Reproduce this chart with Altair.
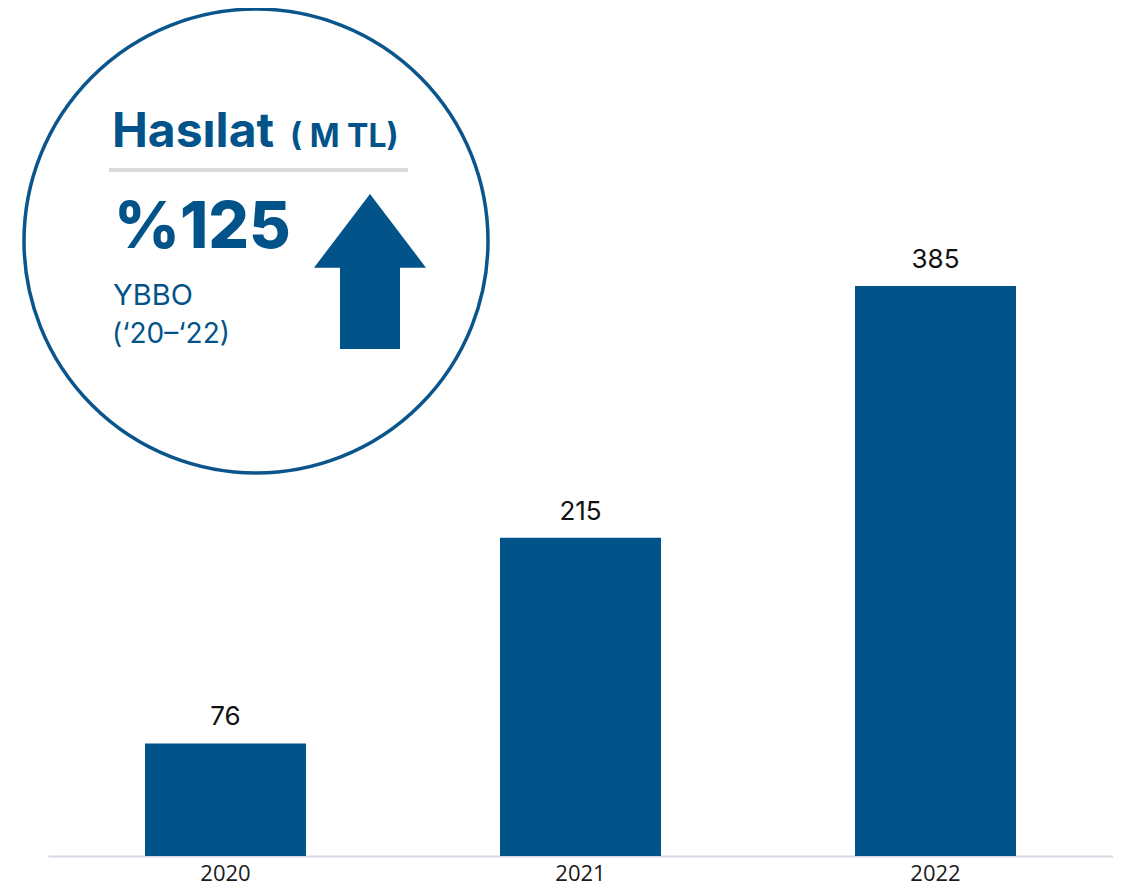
import altair as alt
import pandas as pd

years = ["2020", "2021", "2022"]
revenue = [76, 215, 385]

title_main = "Hasılat"
title_unit = "( M TL)"
growth_text = "%125"
growth_label_1 = "YBBO"
growth_label_2 = "(\u201820\u2013\u201822)"

BLUE = "#01538A"
FONT = "Inter"

df = pd.DataFrame({"year": years, "value": revenue})
one = pd.DataFrame({"k": [0]})

base = alt.Chart(df)

bars = base.mark_bar(color=BLUE).encode(
    x=alt.X(
        "year:N",
        title=None,
        sort=years,
        scale=alt.Scale(paddingInner=0.5465, paddingOuter=0.2732),
        axis=alt.Axis(
            labelAngle=0,
            labelFontSize=22,
            labelFont="Open Sans",
            labelColor="#1a1a1a",
            labelPadding=7,
            ticks=False,
            tickSize=0,
            domainColor="#d5dae6",
            domainWidth=2,
            grid=False,
        ),
    ),
    y=alt.Y("value:Q", title=None, scale=alt.Scale(domain=[0, 572.8], nice=False), axis=None),
)

labels = base.mark_text(
    dy=-18, baseline="alphabetic", fontSize=26, font=FONT, color="#111111"
).encode(
    x=alt.X("year:N", sort=years),
    y=alt.Y("value:Q"),
    text="value:Q",
)

circle = alt.Chart(one).mark_point(
    shape="circle", filled=False, stroke="#0A558C", strokeWidth=3.5, opacity=1
).encode(x=alt.value(208), y=alt.value(233), size=alt.value(464 * 464))

arrow_path = "M0,-1 L0.7226,-0.049 L0.387,-0.049 L0.387,1 L-0.387,1 L-0.387,-0.049 L-0.7226,-0.049 Z"
arrow = alt.Chart(one).mark_point(
    shape=arrow_path, filled=True, fill=BLUE, strokeWidth=0, opacity=1
).encode(x=alt.value(322), y=alt.value(263.5), size=alt.value(24025))

def txt(s, x, y, size, weight="normal"):
    return alt.Chart(pd.DataFrame({"t": [s]})).mark_text(
        align="left", baseline="alphabetic", fontSize=size, fontWeight=weight,
        font=FONT, color=BLUE
    ).encode(x=alt.value(x), y=alt.value(y), text="t:N")

t1 = txt(title_main, 64, 139, 48, "bold")
t2 = txt(title_unit, 242, 139, 32, "bold")
t3 = txt(growth_text, 66, 240, 64, 800)
t4 = txt(growth_label_1, 65, 297, 29)
t5 = txt(growth_label_2, 64, 335, 28)

sep = alt.Chart(one).mark_rule(color="#d9d9d9", strokeWidth=4).encode(
    x=alt.value(61), x2=alt.value(360), y=alt.value(162)
)

chart = alt.layer(bars, labels, circle, sep, arrow, t1, t2, t3, t4, t5).properties(
    width=1065,
    height=848,
    autosize=alt.AutoSizeParams(type="none"),
    padding={"left": 40, "top": 0, "right": 0, "bottom": 30},
).configure_view(stroke=None)

chart.save("out.html", embed_options={"renderer": "svg", "actions": False})
